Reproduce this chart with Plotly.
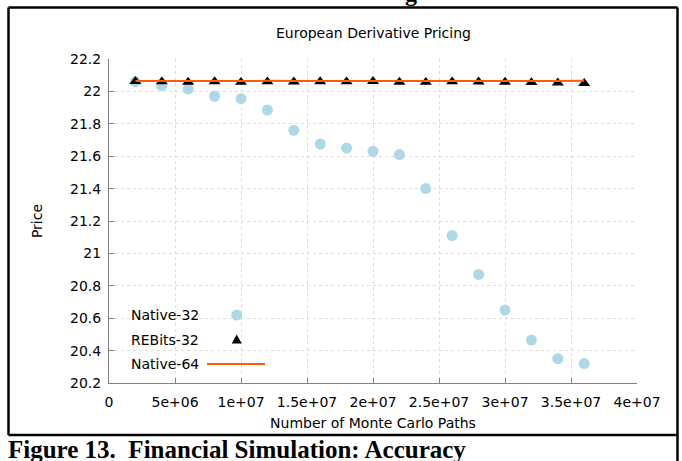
import plotly.graph_objects as go

# Monte Carlo path counts (x axis)
paths = [2000000, 4000000, 6000000, 8000000, 10000000, 12000000, 14000000, 16000000, 18000000,
         20000000, 22000000, 24000000, 26000000, 28000000, 30000000, 32000000, 34000000, 36000000]

# Prices
native32 = [22.06, 22.035, 22.015, 21.97, 21.955, 21.885, 21.76, 21.675, 21.65,
            21.63, 21.61, 21.40, 21.11, 20.87, 20.65, 20.465, 20.35, 20.32]
rebits32 = [22.062, 22.06, 22.058, 22.061, 22.057, 22.06, 22.059, 22.061, 22.06,
            22.062, 22.058, 22.057, 22.06, 22.059, 22.058, 22.055, 22.053, 22.05]
native64 = [22.064, 22.065, 22.064, 22.065, 22.064, 22.065, 22.064, 22.065, 22.065,
            22.065, 22.064, 22.064, 22.065, 22.065, 22.064, 22.064, 22.064, 22.065]

x_ticks = [0, 5000000, 10000000, 15000000, 20000000, 25000000, 30000000, 35000000, 40000000]
x_tick_labels = ["0", "5e+06", "1e+07", "1.5e+07", "2e+07", "2.5e+07", "3e+07", "3.5e+07", "4e+07"]
y_ticks = [20.2, 20.4, 20.6, 20.8, 21, 21.2, 21.4, 21.6, 21.8, 22, 22.2]
y_tick_labels = ["20.2", "20.4", "20.6", "20.8", "21", "21.2", "21.4", "21.6", "21.8", "22", "22.2"]

legend_names = ["Native-32", "REBits-32", "Native-64"]

W, H = 682, 461
L, R, T, B = 109, 637, 59, 383  # plot area in pixels

FONT = "DejaVu Sans"
CIRCLE_COLOR = "#add8e6"
LINE_COLOR = "#ff5a0a"
GRID_COLOR = "#dcdcdc"
AXIS_COLOR = "#808080"


def px(x):
    return (x - L) / (R - L)


def py(y):
    return (B - y) / (B - T)


def create_chart() -> go.Figure:
    fig = go.Figure()

    fig.add_trace(go.Scatter(
        x=paths, y=native32, mode="markers", name=legend_names[0],
        marker=dict(symbol="circle", size=11, color=CIRCLE_COLOR),
    ))
    fig.add_trace(go.Scatter(
        x=paths, y=rebits32, mode="markers", name=legend_names[1],
        marker=dict(symbol="triangle-up", size=10.5, color="black"),
    ))
    fig.add_trace(go.Scatter(
        x=paths, y=native64, mode="lines", name=legend_names[2],
        line=dict(color=LINE_COLOR, width=2),
    ))

    shapes = []
    # white legend box covering the grid (gnuplot style)
    shapes.append(dict(type="rect", xref="paper", yref="paper", layer="between",
                       x0=px(110), x1=px(272), y0=py(298), y1=py(382),
                       fillcolor="white", line=dict(width=0)))
    # legend samples: text left, symbol right
    legend_y = [315, 339.5, 364]
    sample_x = 236.7
    shapes.append(dict(type="circle", xref="paper", yref="paper", layer="above",
                       xsizemode="pixel", ysizemode="pixel",
                       xanchor=px(sample_x), yanchor=py(legend_y[0]),
                       x0=-5.5, x1=5.5, y0=-5.5, y1=5.5,
                       fillcolor=CIRCLE_COLOR, line=dict(width=0)))
    shapes.append(dict(type="path", xref="paper", yref="paper", layer="above",
                       xsizemode="pixel", ysizemode="pixel",
                       xanchor=px(sample_x), yanchor=py(legend_y[1]),
                       path="M -5,-4 L 5,-4 L 0,5 Z",
                       fillcolor="black", line=dict(width=0)))
    shapes.append(dict(type="line", xref="paper", yref="paper", layer="above",
                       x0=px(207), x1=px(265), y0=py(legend_y[2]), y1=py(legend_y[2]),
                       line=dict(color=LINE_COLOR, width=2)))

    # outer figure frame
    frame = dict(color="black", width=2.5)
    shapes.append(dict(type="line", xref="paper", yref="paper",
                       x0=px(8.5), x1=px(677.5), y0=py(7.5), y1=py(7.5), line=frame))
    shapes.append(dict(type="line", xref="paper", yref="paper",
                       x0=px(8.5), x1=px(8.5), y0=py(7.5), y1=py(435), line=frame))
    shapes.append(dict(type="line", xref="paper", yref="paper",
                       x0=px(677.5), x1=px(677.5), y0=py(7.5), y1=py(465), line=frame))
    shapes.append(dict(type="line", xref="paper", yref="paper",
                       x0=px(8.5), x1=px(677.5), y0=py(435), y1=py(435), line=frame))

    annotations = []
    for name, yy in zip(legend_names, legend_y):
        annotations.append(dict(xref="paper", yref="paper", x=px(129), y=py(yy),
                                xanchor="left", yanchor="middle", showarrow=False,
                                text=name, font=dict(family=FONT, size=14, color="black")))
    annotations.append(dict(xref="paper", yref="paper", x=px(373), y=py(33),
                            xanchor="center", yanchor="middle", showarrow=False,
                            text="European Derivative Pricing",
                            font=dict(family=FONT, size=14, color="black")))
    annotations.append(dict(xref="paper", yref="paper", x=px(6), y=py(449),
                            xanchor="left", yanchor="middle", showarrow=False,
                            text="<b>Figure 13.\u00a0 Financial Simulation: Accuracy</b>",
                            font=dict(family="Liberation Serif", size=25, color="black")))
    # descender of the cut-off line above the frame
    annotations.append(dict(xref="paper", yref="paper", x=px(411), y=py(-7),
                            xanchor="center", yanchor="middle", showarrow=False,
                            text="<b>g</b>",
                            font=dict(family="Liberation Serif", size=24, color="black")))

    fig.update_layout(
        width=W, height=H,
        margin=dict(l=L, r=W - R, t=T, b=H - B),
        paper_bgcolor="white", plot_bgcolor="white",
        showlegend=False,
        font=dict(family=FONT, size=14, color="black"),
        shapes=shapes, annotations=annotations,
    )

    fig.update_xaxes(
        range=[0, 40000000], tickvals=x_ticks, ticktext=x_tick_labels,
        showline=True, linecolor=AXIS_COLOR, linewidth=1,
        ticks="inside", ticklen=5, tickcolor=AXIS_COLOR,
        showgrid=True, gridcolor=GRID_COLOR, griddash="dot", gridwidth=1,
        zeroline=False, ticklabelstandoff=6,
        title=dict(text="Number of Monte Carlo Paths", standoff=9, font=dict(size=14)),
    )
    fig.update_yaxes(
        range=[20.2, 22.2], tickvals=y_ticks, ticktext=y_tick_labels,
        showline=True, linecolor=AXIS_COLOR, linewidth=1,
        ticks="inside", ticklen=5, tickcolor=AXIS_COLOR,
        showgrid=True, gridcolor=GRID_COLOR, griddash="dot", gridwidth=1,
        zeroline=False, ticklabelstandoff=4,
        title=dict(text="Price", standoff=24, font=dict(size=14)),
    )
    return fig


if __name__ == "__main__":
    fig = create_chart()
    # drop the browser's default body margin so the figure sits at the page origin
    fig.write_html("out.html", config={"displayModeBar": False},
                   post_script="document.body.style.margin = '0';")
